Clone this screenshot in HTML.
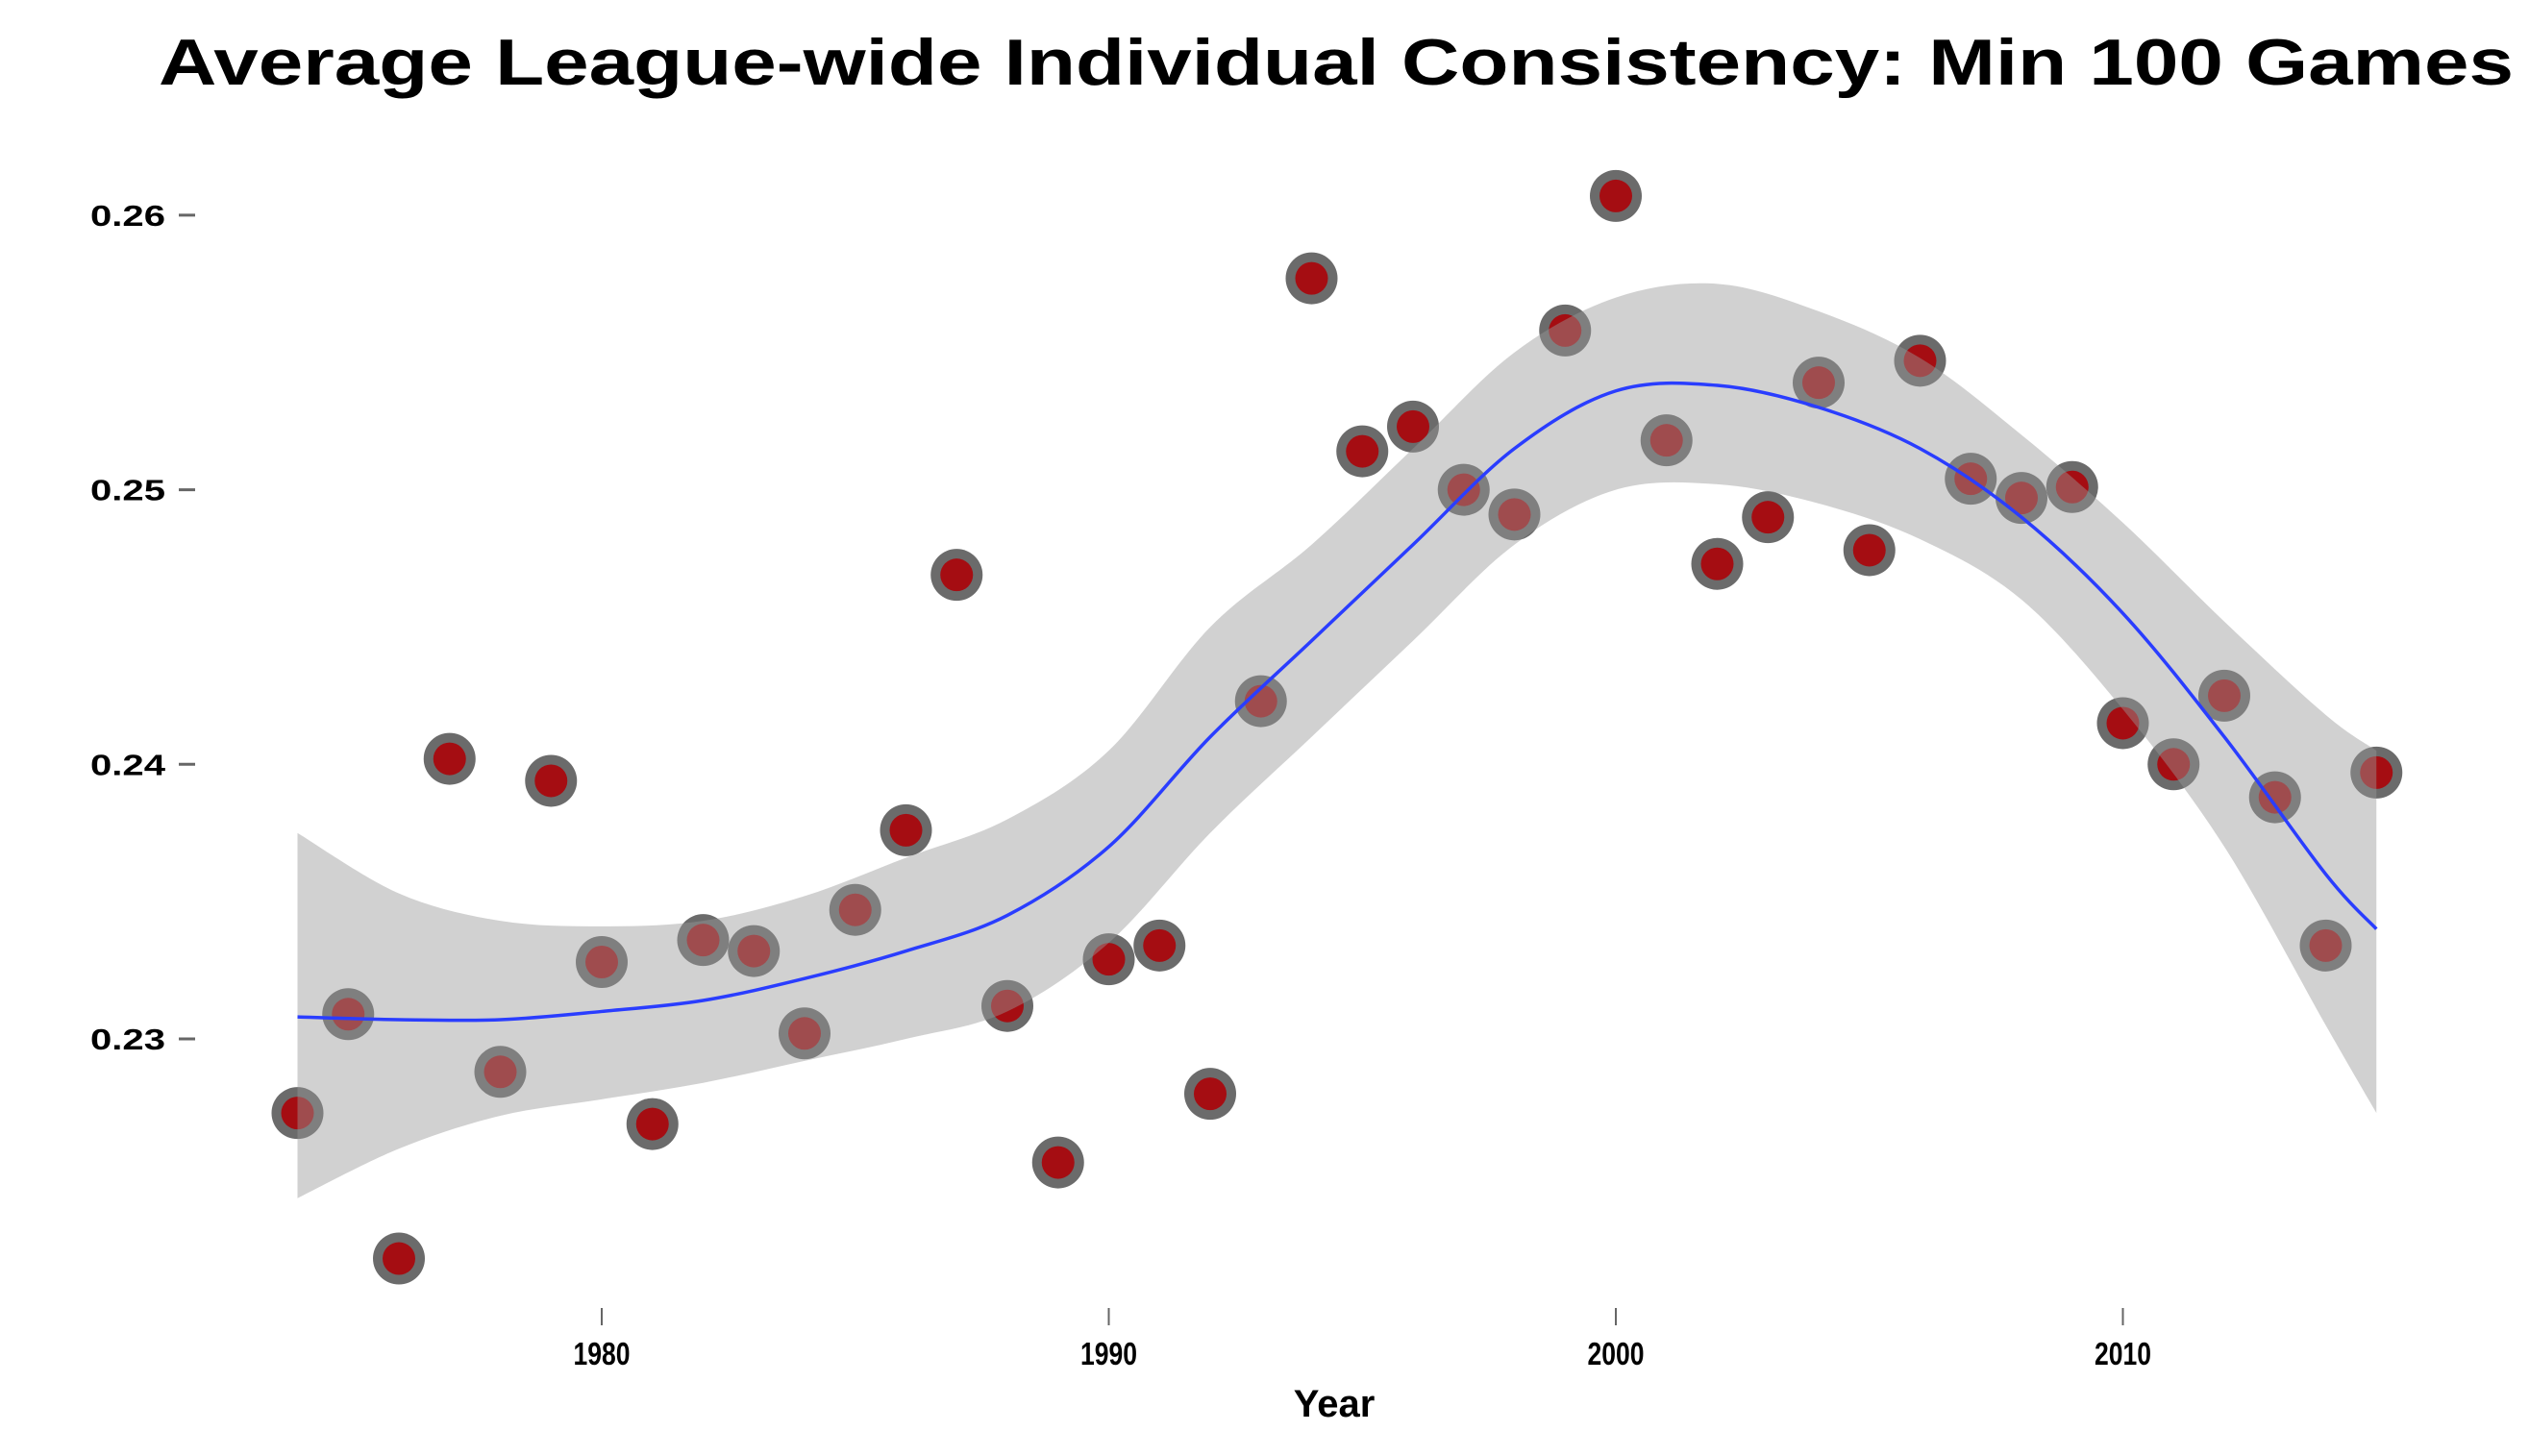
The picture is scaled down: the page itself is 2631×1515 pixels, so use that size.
<!DOCTYPE html>
<html><head><meta charset="utf-8"><style>body{margin:0;background:#fff}svg{display:block}</style></head>
<body>
<svg id="chart" width="2631" height="1515" xmlns="http://www.w3.org/2000/svg" font-family="Liberation Sans, sans-serif">
<text x="1390" y="88" text-anchor="middle" font-size="68" font-weight="bold" textLength="2450" lengthAdjust="spacingAndGlyphs">Average League-wide Individual Consistency: Min 100 Games</text>
<g id="points"></g>
<path id="ribbon" fill="#999" fill-opacity="0.45"/>
<path id="fit" fill="none" stroke="#2a3dff" stroke-width="3.5"/>
<g id="yaxis"></g>
<g id="xaxis"></g>
<text x="1388" y="1474" text-anchor="middle" font-size="40" font-weight="bold">Year</text>
</svg>
<script>
const years=[1974,1975,1976,1977,1978,1979,1980,1981,1982,1983,1984,1985,1986,1987,1988,1989,1990,1991,1992,1993,1994,1995,1996,1997,1998,1999,2000,2001,2002,2003,2004,2005,2006,2007,2008,2009,2010,2011,2012,2013,2014,2015];
const values=[0.2273,0.2309,0.2220,0.2402,0.2288,0.2394,0.2328,0.2269,0.2336,0.2332,0.2302,0.2347,0.2376,0.2469,0.2312,0.2255,0.2329,0.2334,0.2280,0.2423,0.2577,0.2514,0.2523,0.2500,0.2491,0.2558,0.2607,0.2518,0.2473,0.2490,0.2539,0.2478,0.2547,0.2504,0.2497,0.2501,0.2415,0.2400,0.2425,0.2388,0.2334,0.2397];
const fitYears=[1974,1976,1978,1980,1982,1984,1986,1988,1990,1992,1994,1996,1998,2000,2002,2004,2006,2008,2010,2012,2014,2015];
const fitValues=[0.2308,0.2307,0.2307,0.2310,0.2314,0.2322,0.2332,0.2345,0.2370,0.2410,0.2445,0.2480,0.2515,0.2536,0.2538,0.2530,0.2515,0.2490,0.2455,0.2410,0.2360,0.2340];
const upperValues=[0.2375,0.2353,0.2343,0.2341,0.2343,0.2352,0.2366,0.2380,0.2405,0.2450,0.2480,0.2515,0.2550,0.2570,0.2575,0.2565,0.2548,0.2520,0.2488,0.2452,0.2418,0.2405];
const lowerValues=[0.2242,0.2260,0.2272,0.2278,0.2284,0.2292,0.2300,0.2310,0.2335,0.2375,0.2410,0.2445,0.2480,0.2500,0.2502,0.2495,0.2482,0.2460,0.2420,0.2370,0.2305,0.2273];
const yTicks=[0.23,0.24,0.25,0.26];
const xTicks=[1980,1990,2000,2010];

const X=y=>626+(y-1980)*52.75;
const Y=v=>1081-(v-0.23)*28570;
const NS="http://www.w3.org/2000/svg";
function mk(tag,parent){const e=document.createElementNS(NS,tag);parent.appendChild(e);return e;}

const pg=document.getElementById('points');
years.forEach((yr,i)=>{
  const o=mk('circle',pg);
  
  
  o.setAttribute('cx',X(yr));o.setAttribute('cy',Y(values[i]));o.setAttribute('r',27);o.setAttribute('fill','#6b6b6b');
  const c=mk('circle',pg);
  
  
  c.setAttribute('cx',X(yr));c.setAttribute('cy',Y(values[i]));c.setAttribute('r',17);c.setAttribute('fill','#a50d12');
});

function smooth(xs,ys){
  let d='M'+xs[0]+','+ys[0];
  for(let i=0;i<xs.length-1;i++){
    const x0=xs[Math.max(i-1,0)],y0=ys[Math.max(i-1,0)],x1=xs[i],y1=ys[i],x2=xs[i+1],y2=ys[i+1],x3=xs[Math.min(i+2,xs.length-1)],y3=ys[Math.min(i+2,xs.length-1)];
    d+=` C${x1+(x2-x0)/6},${y1+(y2-y0)/6} ${x2-(x3-x1)/6},${y2-(y3-y1)/6} ${x2},${y2}`;
  }
  return d;
}
const fx=fitYears.map(X);
document.getElementById('fit').setAttribute('d',smooth(fx,fitValues.map(Y)));
const up=smooth(fx,upperValues.map(Y));
const rx=fx.slice().reverse(), ry=lowerValues.map(Y).reverse();
const lo=smooth(rx,ry).replace(/^M/,'L');
document.getElementById('ribbon').setAttribute('d',up+' '+lo+' Z');

const ya=document.getElementById('yaxis');
yTicks.forEach(t=>{
  const l=mk('line',ya);
  
  
  l.setAttribute('x1',186);l.setAttribute('x2',203);l.setAttribute('y1',Y(t));l.setAttribute('y2',Y(t));l.setAttribute('stroke','#666');l.setAttribute('stroke-width',3);
  const tx=mk('text',ya);
  
  
  tx.setAttribute('x',172);tx.setAttribute('y',Y(t)+11);tx.setAttribute('text-anchor','end');tx.setAttribute('font-size',31);tx.setAttribute('font-weight','bold');
  tx.setAttribute('textLength',78);tx.setAttribute('lengthAdjust','spacingAndGlyphs');
  tx.textContent=t.toFixed(2);
});
const xa=document.getElementById('xaxis');
xTicks.forEach(t=>{
  const l=mk('line',xa);
  
  
  l.setAttribute('x1',X(t));l.setAttribute('x2',X(t));l.setAttribute('y1',1361);l.setAttribute('y2',1379);l.setAttribute('stroke','#666');l.setAttribute('stroke-width',2);
  const tx=mk('text',xa);
  
  
  tx.setAttribute('x',X(t));tx.setAttribute('y',1420);tx.setAttribute('text-anchor','middle');tx.setAttribute('font-size',33);tx.setAttribute('font-weight','bold');
  tx.setAttribute('textLength',59);tx.setAttribute('lengthAdjust','spacingAndGlyphs');
  tx.textContent=t;
});
</script>
</body></html>
